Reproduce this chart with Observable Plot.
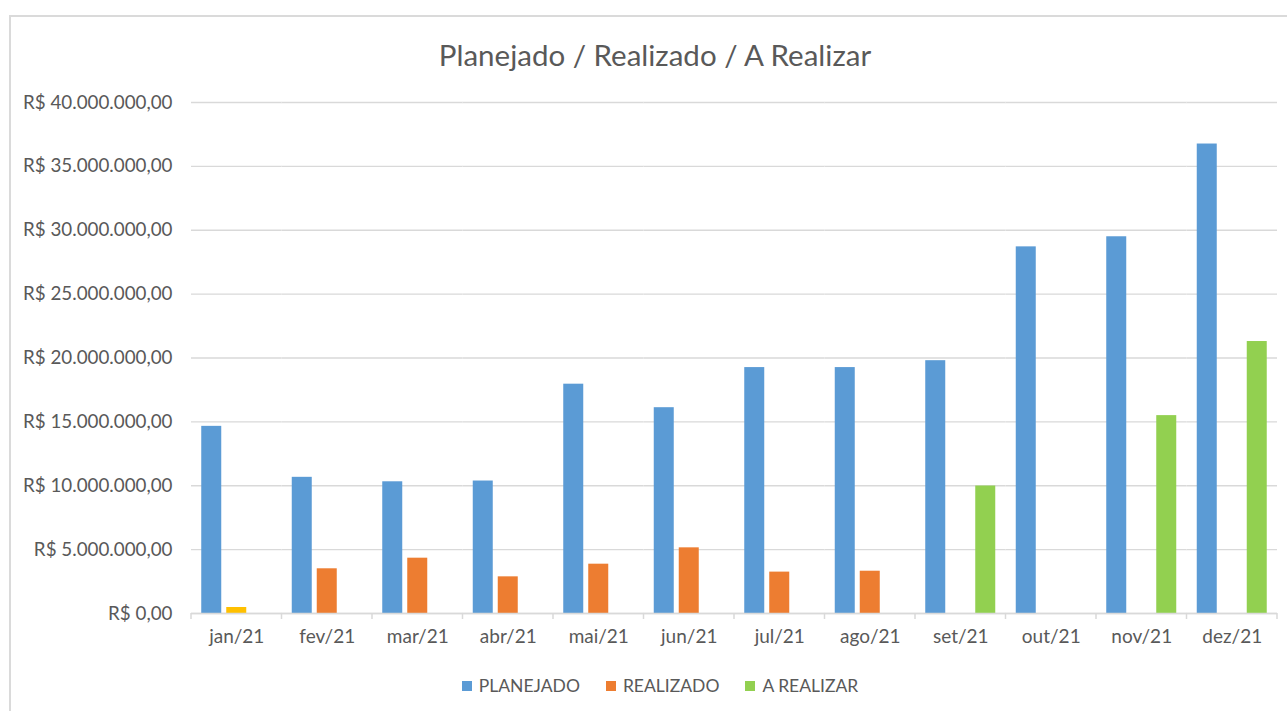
<!DOCTYPE html>
<html>
<head>
<meta charset="utf-8">
<script src="https://cdn.jsdelivr.net/npm/d3@7"></script>
<script src="https://cdn.jsdelivr.net/npm/@observablehq/plot@0.6"></script>
<style>
  html, body { margin: 0; padding: 0; background: #ffffff; }
  body { width: 1287px; height: 711px; position: relative; overflow: hidden; font-family: Lato, "Open Sans", sans-serif; color: #595959; }
  #frame { position: absolute; left: 9px; top: 15px; width: 1400px; height: 800px; border-top: 2px solid #dadada; border-left: 2px solid #dadada; }
  #title { position: absolute; left: 0; top: 37px; width: 1310px; text-align: center; font-size: 29.5px; line-height: 36px; color: #595959; }
  #chart { position: absolute; left: 0; top: 85px; }
  #legend { position: absolute; left: 0; top: 675px; width: 1320px; display: flex; justify-content: center; gap: 26px; font-size: 17.5px; color: #595959; }
  .item { display: flex; align-items: center; gap: 7px; }
  .sw { width: 10px; height: 10px; display: inline-block; }
</style>
</head>
<body>
<div id="frame"></div>
<div id="title">Planejado / Realizado / A Realizar</div>
<div id="chart"></div>
<div id="legend"></div>
<script>
const months = ["jan/21","fev/21","mar/21","abr/21","mai/21","jun/21","jul/21","ago/21","set/21","out/21","nov/21","dez/21"];
const series = ["PLANEJADO", "REALIZADO", "A REALIZAR"];
const planejado = [14650000, 10660000, 10310000, 10370000, 17950000, 16110000, 19250000, 19250000, 19790000, 28700000, 29490000, 36750000];
const realizado = [470000, 3500000, 4330000, 2870000, 3860000, 5140000, 3240000, 3310000, null, null, null, null];
const aRealizar = [null, null, null, null, null, null, null, null, 9980000, null, 15490000, 21290000];
const yTicks = [0, 5000000, 10000000, 15000000, 20000000, 25000000, 30000000, 35000000, 40000000];
const colors = {"PLANEJADO": "#5B9BD5", "REALIZADO": "#ED7D31", "A REALIZAR": "#92D050"};
const highlight = {month: "jan/21", series: "REALIZADO", color: "#FFC000"};

const valuesBySeries = {"PLANEJADO": planejado, "REALIZADO": realizado, "A REALIZAR": aRealizar};
const data = [];
months.forEach((m, i) => {
  series.forEach(s => {
    const v = valuesBySeries[s][i];
    if (v != null) data.push({month: m, series: s, value: v});
  });
});

const brl = d3.formatLocale({decimal: ",", thousands: ".", grouping: [3], currency: ["R$ ", ""]}).format("$,.2f");

const chart = Plot.plot({
  width: 1287,
  height: 578,
  marginLeft: 191,
  marginRight: 10,
  marginTop: 17,
  marginBottom: 50,
  style: {fontFamily: "Lato, 'Open Sans', sans-serif", color: "#595959", background: "transparent"},
  fx: {domain: months, padding: 0, round: false, label: null},
  x: {domain: series, paddingInner: 0.2, paddingOuter: 0.41, round: false, axis: null},
  y: {domain: [0, 40000000], label: null},
  color: {type: "identity"},
  marks: [
    Plot.gridY(yTicks, {stroke: "#d9d9d9", strokeOpacity: 1, strokeWidth: 1.3}),
    Plot.axisY(yTicks, {tickFormat: brl, tickSize: 0, tickPadding: 19, fontSize: 18.8, fill: "#595959", label: null}),
    Plot.barY(data, {
      fx: "month", x: "series", y: "value",
      fill: d => (d.month === highlight.month && d.series === highlight.series) ? highlight.color : colors[d.series]
    }),
    Plot.ruleY([0], {stroke: "#d9d9d9", strokeWidth: 1.5}),
    Plot.axisFx({anchor: "bottom", tickSize: 0, tickPadding: 16, fontSize: 19, fill: "#595959", label: null})
  ]
});
document.getElementById("chart").appendChild(chart);

// category boundary tick marks, placed from the library's scales
const fx = chart.scale("fx");
const y = chart.scale("y");
const y0 = y.apply(0);
const svg = d3.select(chart);
const g = svg.append("g").attr("stroke", "#d9d9d9").attr("stroke-width", 1.5);
const bounds = months.map(m => fx.apply(m)).concat([fx.apply(months[months.length - 1]) + fx.bandwidth]);
bounds.forEach(x => {
  g.append("line").attr("x1", x).attr("x2", x).attr("y1", y0).attr("y2", y0 + 6);
});

// legend
const legend = document.getElementById("legend");
series.forEach(s => {
  const item = document.createElement("div");
  item.className = "item";
  const sw = document.createElement("span");
  sw.className = "sw";
  sw.style.background = colors[s];
  const t = document.createElement("span");
  t.textContent = s;
  item.appendChild(sw);
  item.appendChild(t);
  legend.appendChild(item);
});
</script>
</body>
</html>
